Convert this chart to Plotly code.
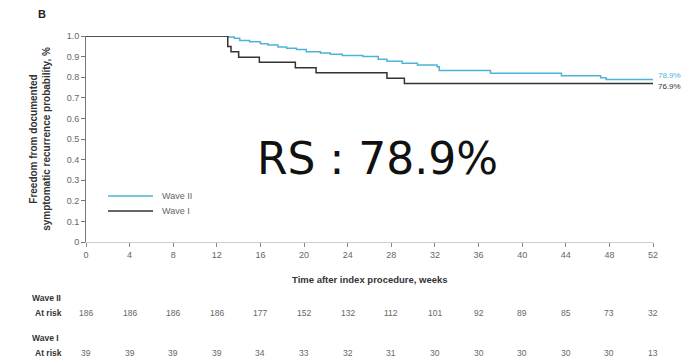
import plotly.graph_objects as go

# ---- data ----
tick_weeks = [0, 4, 8, 12, 16, 20, 24, 28, 32, 36, 40, 44, 48, 52]
wave2_at_risk = [186, 186, 186, 186, 177, 152, 132, 112, 101, 92, 89, 85, 73, 32]
wave1_at_risk = [39, 39, 39, 39, 34, 33, 32, 31, 30, 30, 30, 30, 30, 13]

wave2_time = [0, 13.1, 13.6, 14.1, 15.0, 16.0, 16.7, 17.6, 18.4, 19.3, 20.2, 21.5, 22.4,
              23.5, 25.4, 26.8, 27.6, 29.0, 30.4, 32.2, 32.4, 37.1, 43.6, 47.2, 47.7, 52]
wave2_surv = [1.0, 0.995, 0.989, 0.978, 0.972, 0.962, 0.956, 0.946, 0.940, 0.934, 0.924, 0.918, 0.911,
              0.905, 0.900, 0.887, 0.878, 0.868, 0.859, 0.851, 0.832, 0.819, 0.807, 0.797, 0.789, 0.789]

wave1_time = [0, 13.0, 13.3, 14.0, 15.9, 19.2, 21.1, 27.6, 29.2, 52]
wave1_surv = [1.0, 0.949, 0.923, 0.897, 0.872, 0.846, 0.821, 0.795, 0.769, 0.769]

y_ticks = [0, 0.1, 0.2, 0.3, 0.4, 0.5, 0.6, 0.7, 0.8, 0.9, 1.0]
y_ticktext = ["0", "0.1", "0.2", "0.3", "0.4", "0.5", "0.6", "0.7", "0.8", "0.9", "1.0"]

series_names = ["Wave II", "Wave I"]
end_labels = ["78.9%", "76.9%"]

BLUE = "#4DB3DA"
BLACK = "#333333"
GRAY = "#666666"
FONT = "Liberation Sans, Arial, sans-serif"

fig = go.Figure()
fig.add_trace(go.Scatter(x=wave2_time, y=wave2_surv, mode="lines", line_shape="hv",
                         line=dict(color=BLUE, width=1.5), name=series_names[0], cliponaxis=False))
fig.add_trace(go.Scatter(x=wave1_time, y=wave1_surv, mode="lines", line_shape="hv",
                         line=dict(color=BLACK, width=1.5), name=series_names[1], cliponaxis=False))

L, R, T, B = 86, 31, 36, 118
W, H = 684, 360
pw = W - L - R
ph = H - T - B

def py(ypx):
    return (H - B - ypx) / ph

def px(xpx):
    return (xpx - L) / pw

fig.update_layout(
    width=W, height=H,
    margin=dict(l=L, r=R, t=T, b=B, autoexpand=False),
    plot_bgcolor="white", paper_bgcolor="white",
    font=dict(family=FONT, size=9, color=GRAY),
    showlegend=False,
    xaxis=dict(range=[0, 52], tickvals=tick_weeks, ticktext=[str(t) for t in tick_weeks],
               showgrid=False, zeroline=False, showline=True, linecolor="#cccccc", linewidth=1,
               ticks="outside", ticklen=4, tickcolor="#888888", automargin=False,
               tickfont=dict(size=9, color=GRAY)),
    yaxis=dict(range=[0, 1.0], tickvals=y_ticks, ticktext=y_ticktext,
               showgrid=False, zeroline=False, showline=True, linecolor="#777777", linewidth=1,
               ticks="outside", ticklen=4, tickcolor="#777777", automargin=False,
               tickfont=dict(size=9, color=GRAY),
               title=dict(text="<b>Freedom from documented<br>symptomatic recurrence probability, %</b>",
                          font=dict(size=10, color="#333333"), standoff=14)),
)

ann = []
shapes = []
ann.append(dict(text="<b>B</b>", x=px(36), y=py(14), xref="paper", yref="paper",
                xanchor="left", yanchor="middle", showarrow=False,
                font=dict(size=11, color="#222222")))
ann.append(dict(text="<b>Time after index procedure, weeks</b>", x=0.5, y=py(279),
                xref="paper", yref="paper", showarrow=False, yanchor="middle",
                font=dict(size=9.5, color="#333333")))
ann.append(dict(text="RS : 78.9%", x=px(377), y=py(158), xref="paper", yref="paper",
                showarrow=False, xanchor="center", yanchor="middle",
                font=dict(size=44, color="#111111", family="Comic Sans MS, DejaVu Sans, sans-serif")))
ann.append(dict(text=end_labels[0], x=px(656), y=wave2_surv[-1], xref="paper", yref="y", xanchor="left",
                yanchor="middle", yshift=4, showarrow=False, font=dict(size=8, color=BLUE)))
ann.append(dict(text=end_labels[1], x=px(656), y=wave1_surv[-1], xref="paper", yref="y", xanchor="left",
                yanchor="middle", yshift=-3, showarrow=False, font=dict(size=8, color=BLACK)))

# legend (drawn manually for the reference's tight row spacing)
for name, color, ypx in [(series_names[0], BLUE, 196), (series_names[1], BLACK, 211)]:
    shapes.append(dict(type="line", xref="paper", yref="paper", x0=px(108), x1=px(153),
                       y0=py(ypx), y1=py(ypx), line=dict(color=color, width=1.5)))
    ann.append(dict(text=name, x=px(160), y=py(ypx), xref="paper", yref="paper",
                    xanchor="left", yanchor="middle", showarrow=False,
                    font=dict(size=9, color=GRAY)))

rows = [(series_names[0], 298, 313, wave2_at_risk), (series_names[1], 338, 353, wave1_at_risk)]
for name, yh, yr, vals in rows:
    ann.append(dict(text=f"<b>{name}</b>", x=px(30), y=py(yh), xref="paper", yref="paper",
                    xanchor="left", yanchor="middle", showarrow=False,
                    font=dict(size=8.5, color="#333333")))
    ann.append(dict(text="<b>At risk</b>", x=px(64), y=py(yr), xref="paper", yref="paper",
                    xanchor="right", yanchor="middle", showarrow=False,
                    font=dict(size=8.5, color="#333333")))
    for w, v in zip(tick_weeks, vals):
        ann.append(dict(text=str(v), x=w, y=py(yr), xref="x", yref="paper",
                        xanchor="center", yanchor="middle", showarrow=False,
                        font=dict(size=8.5, color=GRAY)))

fig.update_layout(annotations=ann, shapes=shapes)
fig.write_html("out.html", config={"displayModeBar": False},
               post_script="document.body.style.margin='0';")
